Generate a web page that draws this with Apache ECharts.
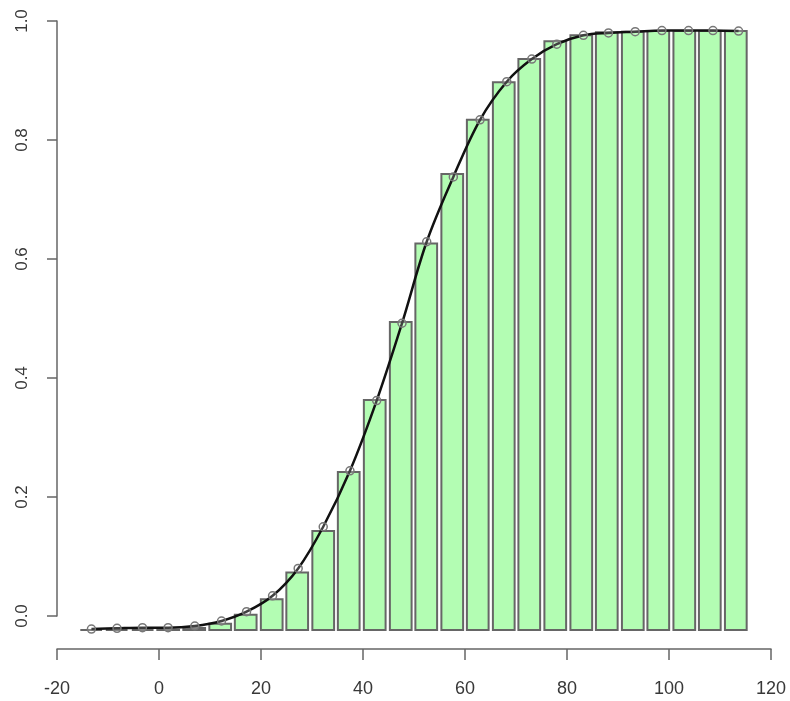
<!DOCTYPE html>
<html>
<head>
<meta charset="utf-8">
<script src="https://cdn.jsdelivr.net/npm/echarts@6/dist/echarts.min.js"></script>
<style>
html,body{margin:0;padding:0;background:#fff;}
#chart{width:790px;height:701px;}
</style>
</head>
<body>
<div id="chart"></div>
<script>
// ---- data ----
const barX = [-13.3, -8.3, -3.2, 1.8, 6.9, 12.0, 17.0, 22.1, 27.1, 32.2, 37.2, 42.3, 47.4,
  52.4, 57.5, 62.5, 67.6, 72.6, 77.7, 82.8, 87.8, 92.9, 97.9, 103.0, 108.0, 113.1];
const barHeights = [-0.0235, -0.0235, -0.0235, -0.0232, -0.020, -0.013, 0.002, 0.028, 0.073,
  0.143, 0.242, 0.363, 0.494, 0.626, 0.743, 0.834, 0.897, 0.936, 0.966, 0.976, 0.981,
  0.982, 0.983, 0.983, 0.983, 0.983];
const pointX = [-13.25, -8.23, -3.24, 1.78, 7.02, 12.26, 17.17, 22.27, 27.29, 32.20, 37.44,
  42.68, 47.65, 52.49, 57.71, 62.95, 68.19, 73.10, 78.00, 83.22, 88.13, 93.37, 98.61,
  103.83, 108.62, 113.64];
const pointY = [-0.022, -0.0207, -0.0197, -0.0197, -0.0168, -0.0084, 0.0072, 0.034, 0.080,
  0.150, 0.244, 0.362, 0.492, 0.629, 0.738, 0.834, 0.898, 0.936, 0.961, 0.976, 0.980,
  0.982, 0.984, 0.984, 0.984, 0.983];
const xTicks = ["-20", "0", "20", "40", "60", "80", "100", "120"];
const yTicks = ["0.0", "0.2", "0.4", "0.6", "0.8", "1.0"];
const barBase = -0.0235;

const chart = echarts.init(document.getElementById('chart'), null, {renderer: 'canvas'});
const FONT = 'Liberation Sans, Arial, sans-serif';

chart.setOption({
  animation: false,
  backgroundColor: '#ffffff',
  grid: {left: 57, right: 19, top: 21, bottom: 85, containLabel: false},
  xAxis: {
    type: 'value', min: -20, max: 120, interval: 20, offset: 33,
    splitLine: {show: false},
    axisLine: {show: true, onZero: false, lineStyle: {color: '#666', width: 1.5}},
    axisTick: {show: true, length: 11, lineStyle: {color: '#666', width: 1.5}},
    axisLabel: {
      margin: 31, fontSize: 18, color: '#383838', fontFamily: FONT,
      formatter: v => xTicks[Math.round((v + 20) / 20)]
    }
  },
  yAxis: {
    type: 'value', min: 0, max: 1, interval: 0.2,
    splitLine: {show: false},
    axisLine: {show: true, onZero: false, lineStyle: {color: '#666', width: 1.5}},
    axisTick: {show: true, length: 10, lineStyle: {color: '#666', width: 1.5}},
    axisLabel: {
      rotate: 90, margin: 26, fontSize: 17, color: '#383838', fontFamily: FONT,
      formatter: v => yTicks[Math.round(v / 0.2)]
    }
  },
  series: [
    {
      type: 'custom',
      clip: false,
      data: barX.map((x, i) => [x, barHeights[i]]),
      renderItem: function (params, api) {
        const x = api.value(0), h = api.value(1);
        const top = api.coord([x, h]);
        const bot = api.coord([x, barBase]);
        const w = api.size([4.26, 0])[0];
        return {
          type: 'rect',
          shape: {x: top[0] - w / 2, y: Math.min(top[1], bot[1]), width: w, height: Math.abs(bot[1] - top[1])},
          style: {fill: '#b3fdb3', stroke: '#666', lineWidth: 2}
        };
      },
      z: 1
    },
    {
      type: 'line',
      clip: false,
      data: pointX.map((x, i) => [x, pointY[i]]),
      smooth: 0.35,
      symbol: 'circle',
      symbolSize: 8,
      showSymbol: true,
      itemStyle: {color: 'rgba(255,255,255,0.2)', borderColor: '#777', borderWidth: 1.5},
      lineStyle: {color: '#111', width: 2.5},
      z: 3
    }
  ]
});
</script>
</body>
</html>
